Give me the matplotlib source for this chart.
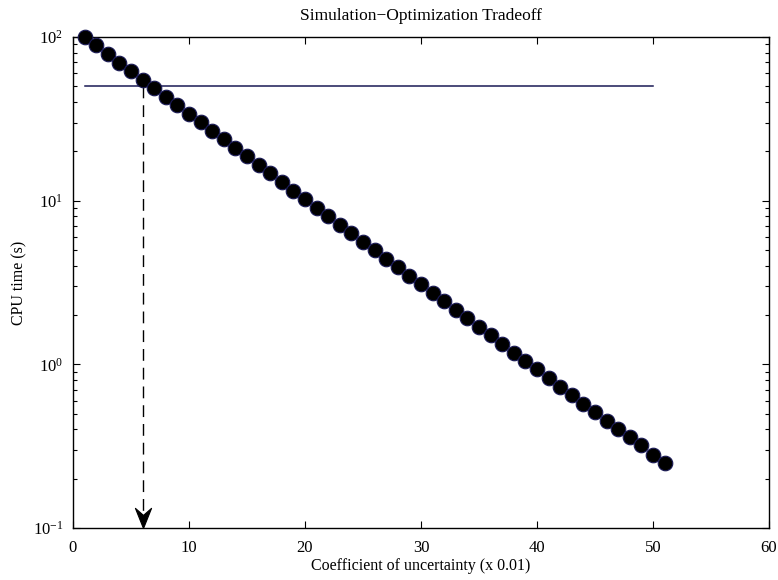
import matplotlib
matplotlib.use("Agg")
import matplotlib.pyplot as plt
from matplotlib.path import Path

plt.rcParams['font.family'] = ['Liberation Serif', 'DejaVu Serif']
plt.rcParams['mathtext.fontset'] = 'stix'

# coefficient of uncertainty (x 0.01) and CPU time (s)
coef = list(range(1, 52))
cpu_time = [100, 88.69, 78.66, 69.77, 61.88, 54.88, 48.68, 43.17, 38.29, 33.96,
            30.12, 26.71, 23.69, 21.01, 18.64, 16.53, 14.66, 13.00, 11.53, 10.23,
            9.07, 8.05, 7.14, 6.33, 5.61, 4.98, 4.42, 3.92, 3.47, 3.08,
            2.73, 2.42, 2.15, 1.91, 1.69, 1.50, 1.33, 1.18, 1.05, 0.93,
            0.82, 0.73, 0.65, 0.57, 0.51, 0.45, 0.40, 0.36, 0.32, 0.28,
            0.25]

budget_x = [1, 50]
budget_y = [50, 50]
chosen_x = 6

fig = plt.figure(figsize=(7.78, 5.80), dpi=100)
ax = fig.add_axes([0.0938, 0.0897, 0.8946, 0.8466])

ax.plot(coef, cpu_time, linestyle='none', marker='o', markersize=10.5,
        markerfacecolor='black', markeredgecolor='#1a1a55', markeredgewidth=0.8,
        clip_on=False, zorder=3)
ax.plot(budget_x, budget_y, color='#1a1a55', linewidth=1.1, zorder=2)

# dashed drop line, then a stealth-style arrowhead with its tip on the axis
ax.plot([chosen_x, chosen_x], [budget_y[0], 0.12], color='black',
        linewidth=1.0, dashes=(8.5, 5), zorder=2)
head = Path([(0, 0), (-0.4, 1.0), (0, 0.65), (0.4, 1.0), (0, 0)],
            [Path.MOVETO, Path.LINETO, Path.LINETO, Path.LINETO, Path.CLOSEPOLY])
ax.plot([chosen_x], [0.1], linestyle='none', marker=head, markersize=29,
        color='black', markeredgewidth=0.8, clip_on=False, zorder=4)

ax.set_yscale('log')
ax.set_xlim(0, 60)
ax.set_ylim(0.1, 100)
ax.set_xticks([0, 10, 20, 30, 40, 50, 60])

ax.tick_params(which='both', direction='in', top=True, right=True,
               labelsize=12, width=0.8)
ax.tick_params(which='major', length=5)
ax.tick_params(which='minor', length=3)
ax.tick_params(axis='x', which='both', pad=9)
ax.tick_params(axis='y', which='both', pad=7)
ax.tick_params(axis='x', which='minor', bottom=False, top=False)
for s in ax.spines.values():
    s.set_linewidth(1.0)

ax.set_title('Simulation\u2212Optimization Tradeoff', fontsize=12.5, pad=12)
ax.set_xlabel('Coefficient of uncertainty (x 0.01)', fontsize=11.5, labelpad=1)
ax.set_ylabel('CPU time (s)', fontsize=11.5, labelpad=4)

fig.savefig('out.png', dpi=100)
